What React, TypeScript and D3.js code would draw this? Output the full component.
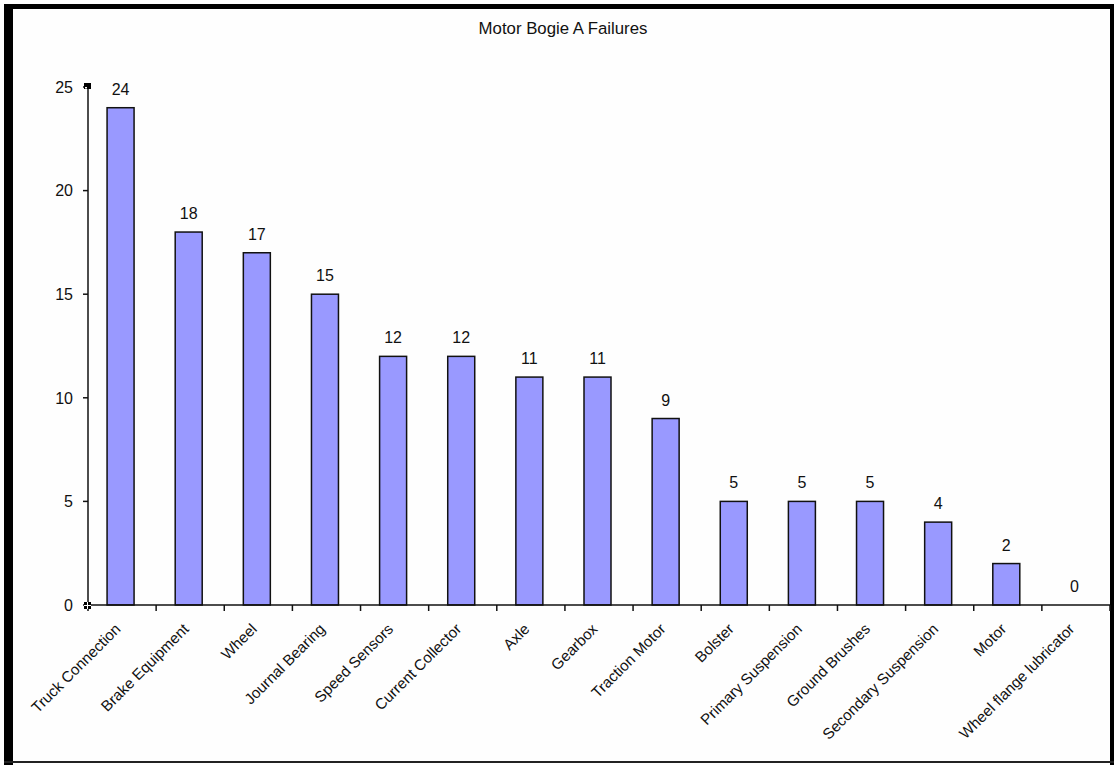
import React from "react";
import * as d3 from "d3";

const categories: string[] = [
  "Truck Connection",
  "Brake Equipment",
  "Wheel",
  "Journal Bearing",
  "Speed Sensors",
  "Current Collector",
  "Axle",
  "Gearbox",
  "Traction Motor",
  "Bolster",
  "Primary Suspension",
  "Ground Brushes",
  "Secondary Suspension",
  "Motor",
  "Wheel flange lubricator",
];
const failures: number[] = [24, 18, 17, 15, 12, 12, 11, 11, 9, 5, 5, 5, 4, 2, 0];
const yTicks: number[] = [0, 5, 10, 15, 20, 25];
const title = "Motor Bogie A Failures";

const W = 1114;
const H = 765;
const FONT = "'Liberation Sans', Arial, sans-serif";

export default function App() {
  const x = d3.scaleBand<string>().domain(categories).range([88, 1110]).paddingInner(0).paddingOuter(0);
  const y = d3.scaleLinear().domain([0, 25]).range([605, 87]);
  const bw = 27;
  const bands = categories.map((c) => x(c) as number);
  const boundaries = [...bands, 1110];

  return (
    <svg
      width={W}
      height={H}
      style={{ position: "absolute", left: 0, top: 0, background: "#fefefe" }}
      fontFamily={FONT}
    >
      <rect x={0} y={0} width={W} height={H} fill="#fefefe" />
      {/* frame */}
      <rect x={4} y={4} width={1110} height={5} fill="#000" />
      <rect x={4} y={4} width={9} height={761} fill="#000" />
      <rect x={1110} y={4} width={4} height={761} fill="#000" />
      <rect x={4} y={761} width={1110} height={2} fill="#222" />

      <text x={563} y={34} textAnchor="middle" fontSize={16.8} fill="#111">
        {title}
      </text>

      {/* bars */}
      {categories.map((c, i) => {
        const cx = (x(c) as number) + x.bandwidth() / 2 - 1.5;
        const v = failures[i];
        return (
          <g key={c}>
            {v > 0 && (
              <rect
                x={cx - bw / 2}
                y={y(v)}
                width={bw}
                height={y(0) - y(v)}
                fill="#9999ff"
                stroke="#111"
                strokeWidth={1.5}
              />
            )}
            <text x={cx} y={y(v) - 13} textAnchor="middle" fontSize={16} fill="#111">
              {v}
            </text>
            <text
              transform={`translate(${cx + 1},${630}) rotate(-45)`}
              textAnchor="end"
              fontSize={15.2}
              fill="#111"
            >
              {c}
            </text>
          </g>
        );
      })}

      {/* y axis */}
      <line x1={88} x2={88} y1={y(25)} y2={y(0)} stroke="#111" strokeWidth={1.5} />
      {yTicks.map((t) => (
        <g key={t}>
          <line x1={83} x2={88} y1={y(t)} y2={y(t)} stroke="#111" strokeWidth={1.5} />
          <text x={73} y={y(t)} dy="0.36em" textAnchor="end" fontSize={16} fill="#111">
            {t}
          </text>
        </g>
      ))}

      {/* x axis */}
      <line x1={88} x2={1110} y1={y(0)} y2={y(0)} stroke="#111" strokeWidth={1.5} />
      {boundaries.map((b, i) => (
        <line key={i} x1={b} x2={b} y1={y(0)} y2={y(0) + 6} stroke="#111" strokeWidth={1.5} />
      ))}

      {/* selection handles */}
      <rect x={84} y={83} width={7} height={6} fill="#000" />
      <rect x={85} y={87} width={2} height={1.5} fill="#fff" />
      <rect x={84} y={602} width={7} height={7} fill="#000" />
      <line x1={84} x2={91} y1={605.5} y2={605.5} stroke="#fff" strokeWidth={1} />
      <line x1={87.5} x2={87.5} y1={602} y2={609} stroke="#fff" strokeWidth={1} />
    </svg>
  );
}
